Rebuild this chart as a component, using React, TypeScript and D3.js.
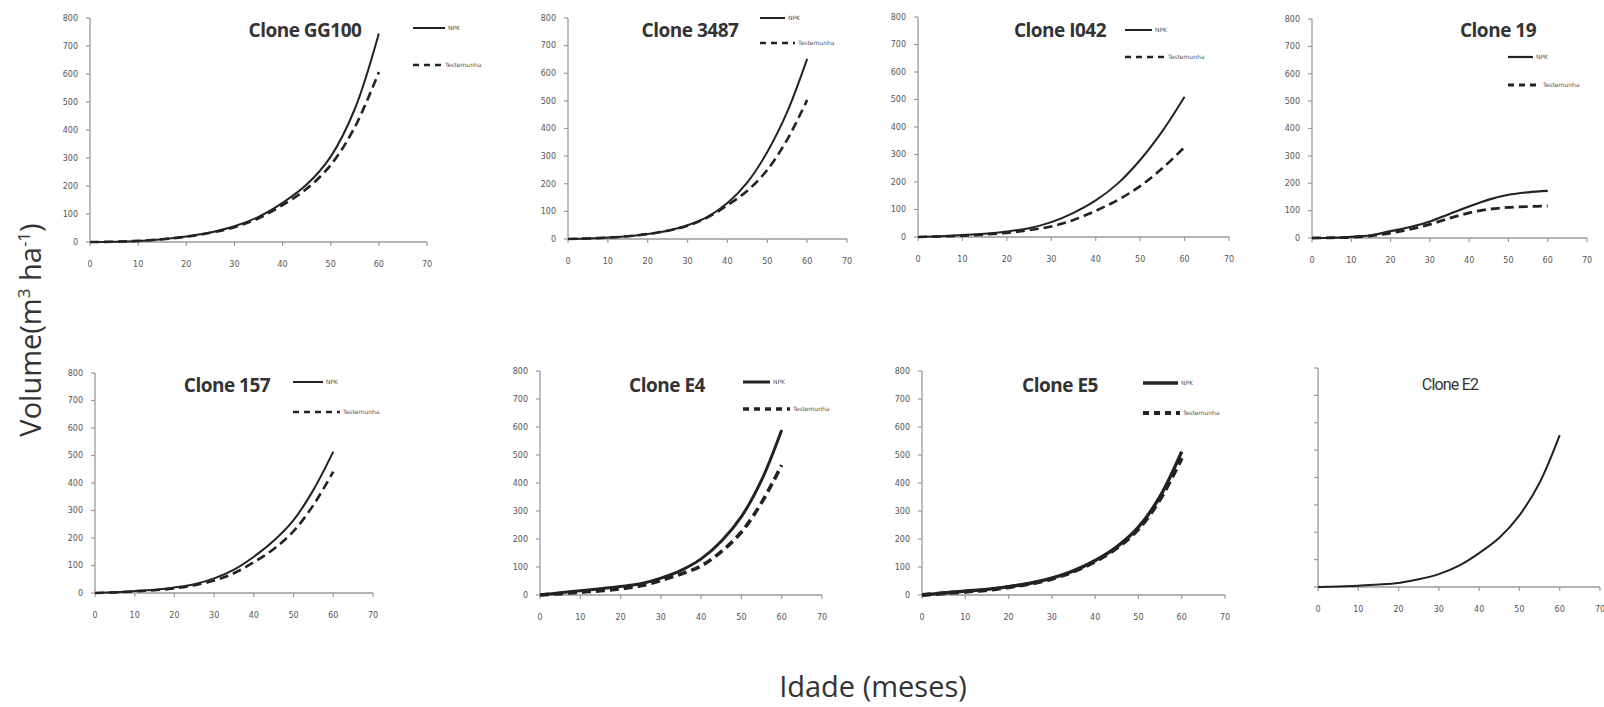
import React from "react";
import * as d3 from "d3";

// ---- data ----
const months = [0, 5, 10, 15, 20, 25, 30, 35, 40, 45, 50, 55, 60];
const xTicks = [0, 10, 20, 30, 40, 50, 60, 70];
const yTicks = [0, 100, 200, 300, 400, 500, 600, 700, 800];
const seriesNames = ["NPK", "Testemunha"];

const cloneNames = ["Clone GG100", "Clone 3487", "Clone I042", "Clone 19", "Clone 157", "Clone E4", "Clone E5", "Clone E2"];

const npkGG100 = [0, 1, 4, 10, 20, 34, 56, 90, 140, 205, 305, 475, 745];
const testGG100 = [0, 1, 4, 10, 19, 33, 53, 85, 132, 190, 275, 410, 607];
const npk3487 = [0, 2, 5, 10, 18, 30, 50, 80, 130, 205, 315, 460, 652];
const test3487 = [0, 2, 5, 10, 18, 30, 48, 78, 122, 175, 250, 360, 503];
const npkI042 = [0, 3, 7, 12, 20, 32, 54, 88, 133, 195, 280, 385, 510];
const testI042 = [0, 2, 5, 9, 15, 25, 38, 62, 95, 135, 185, 250, 327];
const npk19 = [0, 1, 4, 10, 25, 40, 60, 88, 115, 140, 158, 167, 172];
const test19 = [0, 1, 3, 8, 18, 32, 50, 72, 92, 105, 112, 115, 117];
const npk157 = [0, 3, 7, 12, 20, 32, 53, 85, 132, 190, 265, 375, 514];
const test157 = [0, 2, 6, 10, 17, 28, 45, 72, 112, 160, 225, 320, 441];
const npkE4 = [0, 8, 15, 22, 30, 40, 60, 88, 129, 192, 280, 410, 589];
const testE4 = [0, 5, 10, 15, 22, 33, 52, 75, 104, 155, 225, 330, 464];
const npkE5 = [0, 7, 14, 20, 30, 42, 60, 86, 123, 172, 242, 352, 512];
const testE5 = [0, 6, 12, 18, 28, 40, 58, 84, 120, 168, 236, 342, 489];
const valsE2 = [0, 2, 5, 9, 15, 28, 47, 78, 124, 180, 262, 381, 555];

const seriesByClone: (number[] | null)[][] = [
  [npkGG100, testGG100],
  [npk3487, test3487],
  [npkI042, testI042],
  [npk19, test19],
  [npk157, test157],
  [npkE4, testE4],
  [npkE5, testE5],
  [valsE2, null],
];

// ---- layout ----
type Layout = {
  x0: number; x1: number; y0: number; y1: number;
  tx: number; ty: number;
  lx0: number; lx1: number; lxd: number; ly1: number; ly2: number;
  legend: boolean; ylabels: boolean; bold: boolean; lw: number;
};
const layouts: Layout[] = [
  { x0: 90, x1: 427, y0: 242, y1: 18, tx: 305, ty: 37, lx0: 413, lx1: 445, lxd: 442, ly1: 28, ly2: 65, legend: true, ylabels: true, bold: true, lw: 2 },
  { x0: 568, x1: 847, y0: 239, y1: 18, tx: 690, ty: 37, lx0: 760, lx1: 785, lxd: 795, ly1: 18, ly2: 43, legend: true, ylabels: true, bold: true, lw: 2 },
  { x0: 918, x1: 1229, y0: 237, y1: 17, tx: 1060, ty: 37, lx0: 1125, lx1: 1152, lxd: 1165, ly1: 30, ly2: 57, legend: true, ylabels: true, bold: true, lw: 2 },
  { x0: 1312, x1: 1587, y0: 238, y1: 19, tx: 1498, ty: 37, lx0: 1508, lx1: 1533, lxd: 1540, ly1: 57, ly2: 85, legend: true, ylabels: true, bold: true, lw: 2.2 },
  { x0: 95, x1: 373, y0: 593, y1: 373, tx: 227, ty: 392, lx0: 293, lx1: 323, lxd: 340, ly1: 382, ly2: 412, legend: true, ylabels: true, bold: true, lw: 2 },
  { x0: 540, x1: 822, y0: 595, y1: 371, tx: 667, ty: 392, lx0: 743, lx1: 770, lxd: 790, ly1: 382, ly2: 409, legend: true, ylabels: true, bold: true, lw: 3 },
  { x0: 922, x1: 1225, y0: 595, y1: 371, tx: 1060, ty: 392, lx0: 1143, lx1: 1178, lxd: 1180, ly1: 383, ly2: 413, legend: true, ylabels: true, bold: true, lw: 3.4 },
  { x0: 1318, x1: 1600, y0: 587, y1: 368, tx: 1450, ty: 390, lx0: 0, lx1: 0, lxd: 0, ly1: 0, ly2: 0, legend: false, ylabels: false, bold: false, lw: 2 },
];

const AX = "#9a9a9a";
const TXT = "#555";
const LINE = "#222";

function Panel({ idx }: { idx: number }) {
  const L = layouts[idx];
  const x = d3.scaleLinear().domain([0, 70]).range([L.x0, L.x1]);
  const y = d3.scaleLinear().domain([0, 800]).range([L.y0, L.y1]);
  const line = d3
    .line<number>()
    .x((_, i) => x(months[i]))
    .y((v) => y(v))
    .curve(d3.curveCatmullRom.alpha(0.5));
  const [npk, test] = seriesByClone[idx];
  return (
    <g>
      {/* axes */}
      <line x1={L.x0} x2={L.x0} y1={y(800)} y2={L.y0} stroke={AX} strokeWidth={1.3} />
      <line x1={L.x0} x2={L.x1} y1={L.y0} y2={L.y0} stroke={AX} strokeWidth={1.3} />
      {yTicks.map((t) => (
        <g key={"y" + t}>
          <line x1={L.x0 - 4} x2={L.x0} y1={y(t)} y2={y(t)} stroke={AX} strokeWidth={1.2} />
          {L.ylabels && (
            <text x={L.x0 - 12} y={y(t)} dy="0.35em" textAnchor="end" fontSize={8} fill={TXT} fontFamily="DejaVu Sans">
              {t}
            </text>
          )}
        </g>
      ))}
      {xTicks.map((t) => (
        <g key={"x" + t}>
          <line x1={x(t)} x2={x(t)} y1={L.y0} y2={L.y0 + 4} stroke={AX} strokeWidth={1.2} />
          <text x={x(t)} y={L.y0 + 25} textAnchor="middle" fontSize={8} fill={TXT} fontFamily="DejaVu Sans">
            {t}
          </text>
        </g>
      ))}
      {/* curves */}
      {test && (
        <path d={line(test) || ""} fill="none" stroke={LINE} strokeWidth={L.lw + 0.6} strokeDasharray="9,5" />
      )}
      {npk && <path d={line(npk) || ""} fill="none" stroke={LINE} strokeWidth={L.lw} />}
      {/* title */}
      <text
        x={L.tx}
        y={L.ty}
        textAnchor="middle"
        fontSize={L.bold ? 19 : 16}
        fontWeight={L.bold ? "bold" : "normal"}
        fill="#333"
        fontFamily={L.bold ? "Open Sans" : "Liberation Sans Narrow, Roboto"}
        letterSpacing={L.bold ? -0.5 : -0.8}
      >
        {cloneNames[idx]}
      </text>
      {/* legend */}
      {L.legend && (
        <g>
          <line x1={L.lx0} x2={L.lx1} y1={L.ly1} y2={L.ly1} stroke={LINE} strokeWidth={L.lw} />
          <text x={L.lx1 + 3} y={L.ly1} dy="0.35em" fontSize={6} fill={TXT} fontFamily="DejaVu Sans">
            {seriesNames[0]}
          </text>
          <line x1={L.lx0} x2={L.lxd} y1={L.ly2} y2={L.ly2} stroke={LINE} strokeWidth={L.lw + 0.6} strokeDasharray="6,5" />
          <text x={L.lxd + 3} y={L.ly2} dy="0.35em" fontSize={6} fill={TXT} fontFamily="DejaVu Sans">
            {seriesNames[1]}
          </text>
        </g>
      )}
    </g>
  );
}

export default function App() {
  return (
    <svg width={1604} height={707} style={{ position: "absolute", left: 0, top: 0, background: "#fff" }}>
      <rect width={1604} height={707} fill="#fff" />
      {layouts.map((_, i) => (
        <Panel key={i} idx={i} />
      ))}
      <text
        transform="translate(41,330) rotate(-90)"
        textAnchor="middle"
        fontSize={29}
        fill="#333"
        fontFamily="Open Sans"
      >
        Volume(m<tspan dy={-11} fontSize={17}>3</tspan>
        <tspan dy={11}> ha</tspan>
        <tspan dy={-11} fontSize={17}>-1</tspan>
        <tspan dy={11}>)</tspan>
      </text>
      <text x={873} y={697} textAnchor="middle" fontSize={29} fill="#333" fontFamily="Open Sans">
        Idade (meses)
      </text>
    </svg>
  );
}
